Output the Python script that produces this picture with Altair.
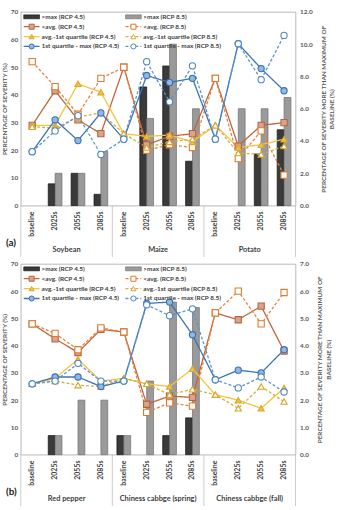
import altair as alt
import pandas as pd

FONT = "Lato"
TXT = "#404040"

periods = ["baseline", "2025s", "2055s", "2085s"]

# ---- panel (a): soybean, maize, potato ----
crops_a = ["Soybean", "Maize", "Potato"]
# share of severity above the baseline maximum (right axis, %)
a_over_max_45 = [0, 1.35, 2.0, 0.7, 0, 7.35, 8.65, 2.75, 0, 0, 3.2, 4.7]
a_over_max_85 = [0, 2.0, 2.0, 3.35, 0, 5.4, 10.0, 6.0, 0, 6.0, 6.0, 6.7]
# severity classes (left axis, %)
a_below_avg_45 = [29, 41.5, 31, 26, 50, 22, 25, 26, 46, 21.5, 29, 30]
a_below_avg_85 = [52, 43, 33, 46, 50, 20, 22, 21, 46, 17, 27, 11]
a_avg_q1_45 = [29, 29, 44, 41, 26, 25, 25.5, 23, 29, 21, 22, 24]
a_avg_q1_85 = [28.5, 28, 32, 33.5, 26, 21, 23, 24, 29, 19, 18.5, 21.5]
a_q1_max_45 = [19.5, 31, 23.5, 33.5, 24, 47, 44.5, 46, 24, 58.5, 49.5, 41.5]
a_q1_max_85 = [19.5, 27, 32.5, 18.5, 24, 52, 37.5, 50.5, 24, 58.5, 45.5, 61.5]

# ---- panel (b): red pepper, Chinese cabbage ----
crops_b = ["Red pepper", "Chiness cabbge (spring)", "Chiness cabbge (fall)"]
b_over_max_45 = [0, 0.7, 0, 0, 0.7, 0, 0.7, 1.35, 0, 0, 0, 0]
b_over_max_85 = [0, 0.7, 2.0, 2.0, 0.7, 2.7, 5.6, 5.4, 0, 0, 0, 0]
b_below_avg_45 = [48, 42.5, 37.5, 46, 45, 18.5, 21.5, 21, 52, 49.5, 54.5, 38]
b_below_avg_85 = [48, 44.5, 38.5, 46.5, 45, 15.5, 19, 17.8, 52, 60, 48, 59.5]
b_avg_q1_45 = [26, 28, 35, 27, 28, 26, 25, 31.5, 22, 20, 17, 24.5]
b_avg_q1_85 = [26, 27, 25.5, 25, 28, 26, 22, 24, 22, 17, 25, 19.5]
b_q1_max_45 = [26, 28.5, 28.5, 25, 27, 55.5, 56, 44, 27.5, 31, 30, 38.5]
b_q1_max_85 = [26, 27, 33.5, 27, 27, 55, 51, 53.5, 27.5, 24.5, 28.5, 23]

SERIES = [
    "<avg. (RCP 4.5)", "<avg. (RCP 8.5)",
    "avg.-1st quartile (RCP 4.5)", "avg.-1st quartile (RCP 8.5)",
    "1st quartile - max (RCP 4.5)", "1st quartile - max (RCP 8.5)",
]
LINE_COL = ["#C0653A", "#E8823F", "#F5C242", "#D9AE3A", "#3A73B5", "#5B93D0"]
EDGE_COL = ["#B8643F", "#E07A30", "#D9A92C", "#D4A530", "#3A6FB0", "#4F86C6"]
FILL_COL = ["#D9A48E", "#FFFFFF", "#F2C14B", "#FFFFFF", "#8FB8E3", "#FFFFFF"]
SHAPES = ["square", "square", "triangle-up", "triangle-up", "circle", "circle"]
DASHES = [[1, 0], [3, 2], [1, 0], [3, 2], [1, 0], [3, 2]]
BAR_KIND = [">max (RCP 4.5)", ">max (RCP 8.5)"]
BAR_FILL = ["#3A3A3A", "#9A9A9A"]
BAR_EDGE = ["#111111", "#6E6E6E"]

# one shared fill scale and one shared stroke scale for bars and markers
FILL_SCALE = alt.Scale(domain=SERIES + BAR_KIND, range=FILL_COL + BAR_FILL)
STROKE_SCALE = alt.Scale(domain=SERIES + BAR_KIND, range=EDGE_COL + BAR_EDGE)

W = 278
XS = alt.Scale(domain=[-0.5, 11.5], nice=False, zero=False)


def one_row():
    return pd.DataFrame({"k": [0]})


def panel(crops, dark, grey, lines, height, right_max, tag):
    # bars on the right-hand axis
    rows = []
    for i, (d, g) in enumerate(zip(dark, grey)):
        if d > 0:
            rows.append({"x0": i - 0.3, "x1": i, "v": d, "z": 0, "series": BAR_KIND[0]})
        if g > 0:
            rows.append({"x0": i, "x1": i + 0.3, "v": g, "z": 0, "series": BAR_KIND[1]})
    step = 2 if right_max > 8 else 1
    bars = alt.Chart(pd.DataFrame(rows)).mark_rect(strokeWidth=0.7).encode(
        x=alt.X("x0:Q", scale=XS, axis=None),
        x2="x1:Q",
        y=alt.Y("v:Q", scale=alt.Scale(domain=[0, right_max], nice=False),
                axis=alt.Axis(orient="right", values=list(range(0, int(right_max) + 1, step)),
                              format=".1f", ticks=False, domain=False, grid=False, labelPadding=4,
                              title=["PERCENTAGE OF SEVERITY MORE THAN MAXIMUM OF", "BASELINE (%)"],
                              titleAngle=270, titlePadding=6)),
        y2="z:Q",
        fill=alt.Fill("series:N", scale=FILL_SCALE, legend=None),
        stroke=alt.Stroke("series:N", scale=STROKE_SCALE, legend=None),
    )

    # severity class lines on the left-hand axis
    recs = []
    for s, vals in zip(SERIES, lines):
        for i, v in enumerate(vals):
            recs.append({"series": s, "slot": i, "val": v})
    ldf = pd.DataFrame(recs)
    y_left = alt.Y("val:Q", scale=alt.Scale(domain=[0, 70], nice=False),
                   axis=alt.Axis(orient="left", values=list(range(0, 71, 10)), format="d",
                                 ticks=False, domain=False, grid=False, labelPadding=3,
                                 title="PERCENTAGE OF SEVERITY (%)", titlePadding=3))
    base = alt.Chart(ldf).encode(x=alt.X("slot:Q", scale=XS, axis=None), y=y_left)
    line = base.mark_line(strokeWidth=1.3).encode(
        color=alt.Color("series:N", scale=alt.Scale(domain=SERIES, range=LINE_COL), legend=None),
        strokeDash=alt.StrokeDash("series:N", scale=alt.Scale(domain=SERIES, range=DASHES), legend=None),
        detail="series:N",
    )
    pts = base.mark_point(filled=True, size=40, strokeWidth=1.1, opacity=1).encode(
        shape=alt.Shape("series:N", scale=alt.Scale(domain=SERIES, range=SHAPES), legend=None),
        fill=alt.Fill("series:N", scale=FILL_SCALE, legend=None),
        stroke=alt.Stroke("series:N", scale=STROKE_SCALE, legend=None),
    )
    line_group = alt.layer(line, pts)

    # group separators under the category axis
    sep = alt.Chart(pd.DataFrame({"b": [-0.5, 3.5, 7.5, 11.5]})).mark_rule(
        color="#BFBFBF", strokeWidth=0.8).encode(
        x=alt.X("b:Q", scale=XS, axis=None),
        y=alt.value(height), y2=alt.value(height + 52))

    cat = alt.Chart(pd.DataFrame({"slot": list(range(12)), "lab": periods * 3})).mark_text(
        angle=270, align="right", baseline="middle", font=FONT, fontSize=7,
        fontWeight="bold", color=TXT).encode(
        x=alt.X("slot:Q", scale=XS, axis=None), y=alt.value(height + 6), text="lab:N")

    grp = alt.Chart(pd.DataFrame({"c": [1.5, 5.5, 9.5], "lab": crops})).mark_text(
        font=FONT, fontSize=7.5, fontWeight="bold", color=TXT, baseline="middle").encode(
        x=alt.X("c:Q", scale=XS, axis=None), y=alt.value(height + 45), text="lab:N")

    tag_txt = alt.Chart(one_row()).mark_text(
        text=tag, font=FONT, fontSize=10, fontWeight="bold", color="#222222",
        align="left", baseline="middle").encode(x=alt.value(-15), y=alt.value(height + 38))

    # legend drawn inside the plot area
    leg = []
    cols = [(3, 19, 21), (106, 122, 124)]
    entries = [
        [("bar", 0, BAR_KIND[0]), ("ser", 0, SERIES[0]), ("ser", 2, SERIES[2]), ("ser", 4, SERIES[4])],
        [("bar", 1, BAR_KIND[1]), ("ser", 1, SERIES[1]), ("ser", 3, SERIES[3]), ("ser", 5, SERIES[5])],
    ]
    for c, (xa, xb, xt) in enumerate(cols):
        for r, (kind, idx, label) in enumerate(entries[c]):
            yy = 5 + 10 * r
            if kind == "bar":
                leg.append(alt.Chart(one_row()).mark_rect(
                    fill=BAR_FILL[idx], stroke=BAR_EDGE[idx], strokeWidth=0.6).encode(
                    x=alt.value(xa), x2=alt.value(xb), y=alt.value(yy - 2), y2=alt.value(yy + 2)))
            else:
                leg.append(alt.Chart(one_row()).mark_rule(
                    color=LINE_COL[idx], strokeWidth=1.3, strokeDash=DASHES[idx]).encode(
                    x=alt.value(xa), x2=alt.value(xb), y=alt.value(yy)))
                leg.append(alt.Chart(one_row()).mark_point(
                    shape=SHAPES[idx], filled=True, fill=FILL_COL[idx], stroke=EDGE_COL[idx],
                    size=26, strokeWidth=1.0, opacity=1).encode(
                    x=alt.value((xa + xb) / 2), y=alt.value(yy)))
            leg.append(alt.Chart(one_row()).mark_text(
                text=label, font=FONT, fontSize=6.5, fontWeight="bold", color=TXT,
                align="left", baseline="middle").encode(x=alt.value(xt), y=alt.value(yy)))

    return alt.layer(sep, bars, line_group, cat, grp, tag_txt, *leg).resolve_scale(
        y="independent").properties(width=W, height=height)


pa = panel(crops_a, a_over_max_45, a_over_max_85,
           [a_below_avg_45, a_below_avg_85, a_avg_q1_45, a_avg_q1_85, a_q1_max_45, a_q1_max_85],
           196, 12, "(a)")
pb = panel(crops_b, b_over_max_45, b_over_max_85,
           [b_below_avg_45, b_below_avg_85, b_avg_q1_45, b_avg_q1_85, b_q1_max_45, b_q1_max_85],
           193, 7, "(b)")

chart = alt.vconcat(pa, pb, spacing=59, bounds="flush").properties(
    padding={"left": 1, "top": 5, "right": 2, "bottom": 2},
    background="white",
).configure_view(stroke="#A6A6A6", strokeWidth=0.8).configure_axis(
    labelFont=FONT, labelFontSize=6.5, labelFontWeight="bold", labelColor="#595959",
    titleFont=FONT, titleFontSize=6.5, titleFontWeight="bold", titleColor="#595959",
)

chart.save("out.html", embed_options={"renderer": "svg", "actions": False})
